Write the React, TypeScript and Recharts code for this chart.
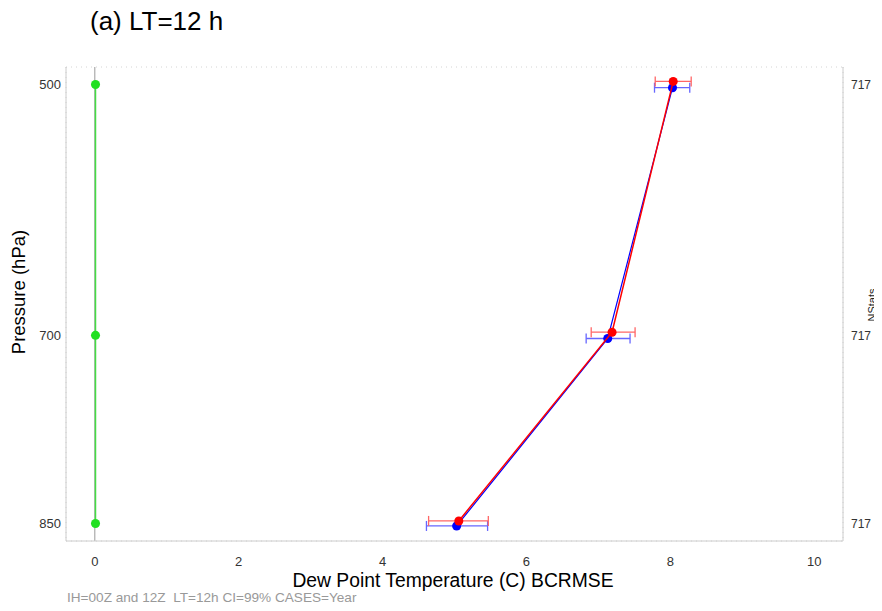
import React from "react";
import {
  ScatterChart, Scatter, XAxis, YAxis, ZAxis, CartesianGrid, ErrorBar, ReferenceLine,
} from "recharts";

const levels = [500, 700, 850];
const nStats = ["717", "717", "717"];
const xTicks = [0, 2, 4, 6, 8, 10];

// Red series (offset slightly upward in pressure for display)
const redPressure = [497.5, 697.5, 848];
const redValue = [8.04, 7.19, 5.06];
const redLow = [7.79, 6.9, 4.64];
const redHigh = [8.29, 7.51, 5.47];

// Blue series
const bluePressure = [502.5, 702.5, 852];
const blueValue = [8.03, 7.13, 5.03];
const blueLow = [7.78, 6.83, 4.61];
const blueHigh = [8.27, 7.44, 5.46];

// Green series (difference)
const greenValue = [0.01, 0.01, 0.01];

const build = (p: number[], v: number[], lo?: number[], hi?: number[]) =>
  p.map((pp, i) => ({
    x: v[i],
    y: pp,
    err: lo && hi ? [v[i] - lo[i], hi[i] - v[i]] : undefined,
  }));

const redData = build(redPressure, redValue, redLow, redHigh);
const blueData = build(bluePressure, blueValue, blueLow, blueHigh);
const greenData = build(levels, greenValue);
const rightData = levels.map((l) => ({ x: 0, y: l }));

const FONT = "'Liberation Sans', Arial, sans-serif";
const XDOM: [number, number] = [-0.4, 10.4];
const YDOM: [number, number] = [486, 864];

const NStatsLabel = (props: any) => {
  const vb = props.viewBox || { x: 835, y: 59, width: 39, height: 474 };
  const cx = vb.x + vb.width - 6;
  const cy = vb.y + vb.height / 2 + 1;
  return (
    <text
      x={cx}
      y={cy}
      transform={`rotate(-90 ${cx} ${cy})`}
      textAnchor="middle"
      fontSize={11}
      fill="#222"
      fontFamily={FONT}
    >
      NStats
    </text>
  );
};

export default function App() {
  const W = 874;
  const H = 595;
  return (
    <div style={{ position: "relative", width: W, height: H, fontFamily: FONT }}>
      <ScatterChart
        width={W}
        height={H}
        margin={{ top: 59, right: 0, bottom: 32, left: 0 }}
      >
        <CartesianGrid stroke="#d4d4d4" strokeDasharray="1 4" />
        <XAxis
          xAxisId="b"
          type="number"
          dataKey="x"
          domain={XDOM}
          ticks={xTicks}
          allowDataOverflow
          height={30}
          axisLine={{ stroke: "#cccccc" }}
          tickLine={false}
          tickSize={0}
          tickMargin={16}
          tick={{ fontSize: 13, fill: "#333", fontFamily: FONT }}
        />
        <XAxis
          xAxisId="t"
          orientation="top"
          type="number"
          dataKey="x"
          domain={XDOM}
          allowDataOverflow
          height={0}
          axisLine={{ stroke: "#cccccc" }}
          tick={false}
          tickLine={false}
        />
        <YAxis
          yAxisId="l"
          type="number"
          dataKey="y"
          reversed
          domain={YDOM}
          ticks={levels}
          allowDataOverflow
          width={58}
          axisLine={{ stroke: "#cccccc" }}
          tickLine={false}
          tickSize={0}
          tickMargin={5}
          tick={{ fontSize: 13, fill: "#333", fontFamily: FONT }}
        />
        <YAxis
          yAxisId="r"
          orientation="right"
          type="number"
          dataKey="y"
          reversed
          domain={YDOM}
          ticks={levels}
          allowDataOverflow
          width={39}
          axisLine={{ stroke: "#cccccc" }}
          tickLine={false}
          tickSize={0}
          tickMargin={8}
          tickFormatter={(v: number) => nStats[levels.indexOf(v)] ?? ""}
          tick={{ fontSize: 12, fill: "#333", fontFamily: FONT }}
          label={<NStatsLabel />}
        />
        <ZAxis range={[80, 80]} />
        <ReferenceLine xAxisId="b" yAxisId="l" x={0} stroke="#aaaaaa" strokeWidth={1.2} />
        <Scatter
          xAxisId="t"
          yAxisId="r"
          data={rightData}
          fill="none"
          shape={() => null}
          isAnimationActive={false}
        />
        <Scatter
          xAxisId="b"
          yAxisId="l"
          data={greenData}
          fill="#22e022"
          line={{ stroke: "#44dd44", strokeWidth: 1.5 }}
          isAnimationActive={false}
        />
        <Scatter
          xAxisId="b"
          yAxisId="l"
          data={blueData}
          fill="#0000ff"
          line={{ stroke: "#0000ff", strokeWidth: 1.2 }}
          isAnimationActive={false}
        >
          <ErrorBar dataKey="err" direction="x" width={5} stroke="#6666ff" strokeWidth={1.3} />
        </Scatter>
        <Scatter
          xAxisId="b"
          yAxisId="l"
          data={redData}
          fill="#ff0000"
          line={{ stroke: "#ff0000", strokeWidth: 1.5 }}
          isAnimationActive={false}
        >
          <ErrorBar dataKey="err" direction="x" width={5} stroke="#ff6666" strokeWidth={1.3} />
        </Scatter>
      </ScatterChart>
      <div style={{ position: "absolute", left: 82, top: 0, fontSize: 26, color: "#000", lineHeight: 1 }}>
        (a) LT=12 h
      </div>
      <div
        style={{
          position: "absolute", left: 11, top: 284, fontSize: 18.5, lineHeight: 1,
          transform: "translate(-50%, -50%) rotate(-90deg)", whiteSpace: "nowrap",
        }}
      >
        Pressure (hPa)
      </div>
      <div
        style={{
          position: "absolute", left: 445, top: 573, fontSize: 19.3, lineHeight: 1,
          transform: "translate(-50%, -50%)", whiteSpace: "nowrap",
        }}
      >
        Dew Point Temperature (C) BCRMSE
      </div>
      <div style={{ position: "absolute", left: 59, top: 583, fontSize: 13.6, lineHeight: 1, color: "#999" }}>
        IH=00Z and 12Z&nbsp; LT=12h CI=99% CASES=Year
      </div>
    </div>
  );
}
